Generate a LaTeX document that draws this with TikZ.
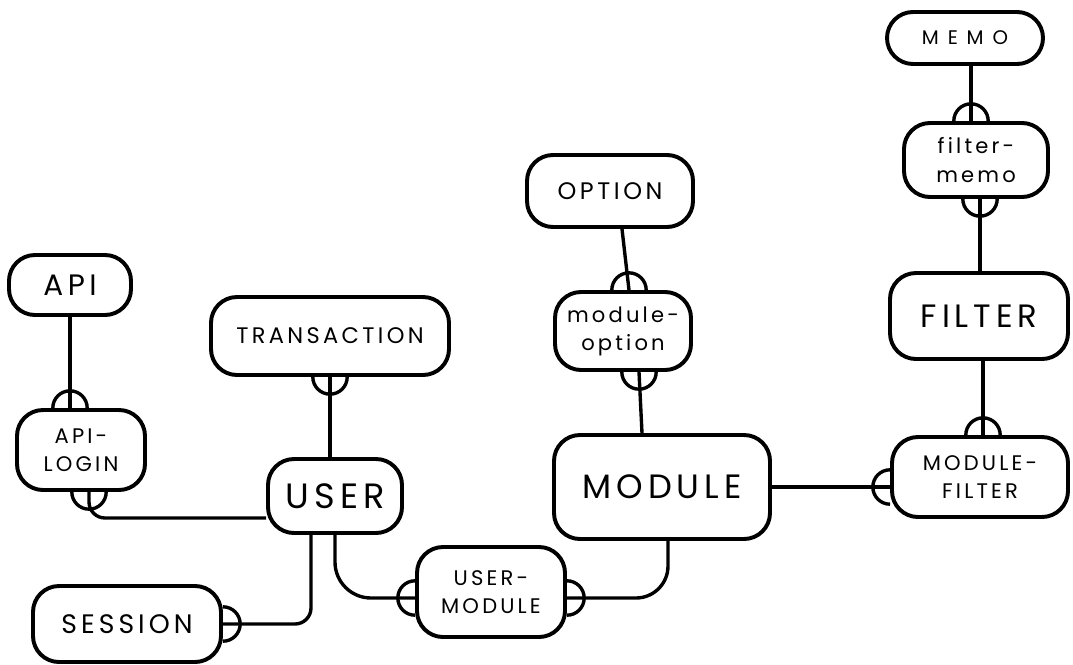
\documentclass[tikz,border=0pt]{standalone}
\usepackage{fontspec}
\setmainfont[LetterSpace=15]{Poppins}

\begin{document}
\begin{tikzpicture}[
  x=0.25mm, y=-0.25mm,
  tbl/.style={
    draw, line width=2.8pt, rounded corners=6.5mm, align=center,
    inner sep=4pt, text=black
  },
  jct/.style={tbl, font=\fontsize{15}{20}\selectfont},
  link/.style={line width=2.4pt},
  dome/.pic={\draw[line width=2.4pt] (-4.3mm,0) arc[start angle=180, end angle=0, radius=4.3mm];},
]

\useasboundingbox (0,0) rectangle (1073,665);

% =============================================
% Left side: API -- API-LOGIN -- USER -- SESSION
% =============================================

\node[tbl, minimum width=30.5mm, minimum height=15mm, font=\fontsize{21}{24}\selectfont]
  (api) at (70,285) {API};

\node[jct, minimum width=32mm, minimum height=20mm]
  (apilogin) at (81,450) {API-\\LOGIN};

\node[tbl, minimum width=59.5mm, minimum height=19.5mm, font=\fontsize{16}{20}\selectfont]
  (trans) at (330,336) {TRANSACTION};

\node[tbl, minimum width=33.5mm, minimum height=18.5mm, font=\fontsize{25}{28}\selectfont]
  (user) at (335,496) {USER};

\node[tbl, minimum width=47mm, minimum height=19mm, font=\fontsize{19}{22}\selectfont]
  (session) at (127,624) {SESSION};

\node[jct, minimum width=37mm, minimum height=22.5mm]
  (usermod) at (491,592) {USER-\\MODULE};

% =============================================
% Middle: OPTION -- MODULE-OPTION -- MODULE
% =============================================

\node[tbl, minimum width=41.5mm, minimum height=18mm, font=\fontsize{17}{20}\selectfont]
  (option) at (610,191) {OPTION};

\node[jct, minimum width=34mm, minimum height=19.5mm]
  (modopt) at (623,331) {module-\\option};

\node[tbl, minimum width=54mm, minimum height=26mm, font=\fontsize{24}{28}\selectfont]
  (module) at (662,487) {MODULE};

% =============================================
% Right side: MEMO -- FILTER-MEMO -- FILTER -- MODULE-FILTER
% =============================================

\node[tbl, minimum width=39mm, minimum height=13mm, font=\fontsize{14}{16}\selectfont\addfontfeature{LetterSpace=45}]
  (memo) at (965,38) {MEMO};

\node[jct, minimum width=36mm, minimum height=18.5mm]
  (filtmemo) at (976,160) {filter-\\memo};

\node[tbl, minimum width=44.5mm, minimum height=21.5mm, font=\fontsize{23}{26}\selectfont]
  (filter) at (979,316) {FILTER};

\node[jct, minimum width=44mm, minimum height=20mm]
  (modfilt) at (980,477) {MODULE-\\FILTER};

% =============================================
% Relations
% =============================================

% API -> API-LOGIN
\draw[link] (api.south) -- (api.south |- apilogin.north);
\pic at (api.south |- apilogin.north) {dome};

% API-LOGIN -> USER
\draw[link, rounded corners=4mm] ([xshift=2mm]apilogin.south) |- ([yshift=-5.5mm]user.west);
\pic[rotate=180] at ([xshift=2mm]apilogin.south) {dome};

% TRANSACTION -> USER
\draw[link] (trans.south) -- (trans.south |- user.north);
\pic[rotate=180] at (trans.south) {dome};

% USER -> SESSION
\draw[link, rounded corners=4mm] ([xshift=-6mm]user.south) |- (session.east);
\pic[rotate=-90] at (session.east) {dome};

% USER -> USER-MODULE
\draw[link, rounded corners=9mm] (user.south) |- ([yshift=-1.5mm]usermod.west);
\pic[rotate=90] at ([yshift=-1.5mm]usermod.west) {dome};

% USER-MODULE -> MODULE
\draw[link, rounded corners=8mm] ([yshift=-1.5mm]usermod.east) -| ([xshift=1.5mm]module.south);
\pic[rotate=-90] at ([yshift=-1.5mm]usermod.east) {dome};

% OPTION -> MODULE-OPTION
\draw[link] ([xshift=3mm]option.south) -- ([xshift=1.5mm]modopt.north);
\pic at ([xshift=1.5mm]modopt.north) {dome};

% MODULE-OPTION -> MODULE
\draw[link] ([xshift=4mm]modopt.south) -- ([xshift=-5mm]module.north);
\pic[rotate=180] at ([xshift=4mm]modopt.south) {dome};

% MODULE -> MODULE-FILTER
\draw[link] (module.east) -- (module.east -| modfilt.west);
\pic[rotate=90] at (module.east -| modfilt.west) {dome};

% FILTER -> MODULE-FILTER
\draw[link] ([xshift=1mm]filter.south) -- ([xshift=1mm]filter.south |- modfilt.north);
\pic at ([xshift=1mm]filter.south |- modfilt.north) {dome};

% MEMO -> FILTER-MEMO
\draw[link] ([xshift=1.5mm]memo.south) -- ([xshift=1.5mm]memo.south |- filtmemo.north);
\pic at ([xshift=1.5mm]memo.south |- filtmemo.north) {dome};

% FILTER-MEMO -> FILTER
\draw[link] ([xshift=1mm]filtmemo.south) -- ([xshift=1mm]filtmemo.south |- filter.north);
\pic[rotate=180] at ([xshift=1mm]filtmemo.south) {dome};

\end{tikzpicture}
\end{document}
